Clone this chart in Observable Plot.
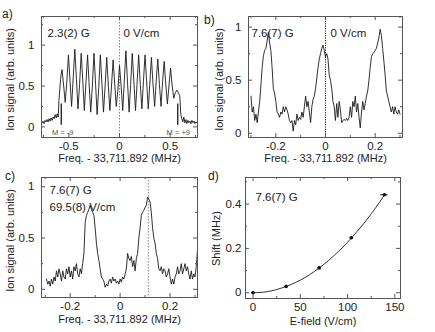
<!DOCTYPE html>
<html><head><meta charset="utf-8">
<script src="https://cdn.jsdelivr.net/npm/d3@7"></script>
<script src="https://cdn.jsdelivr.net/npm/@observablehq/plot@0.6"></script>
<style>
body{margin:0;background:#fff;}
#fig{position:relative;width:435px;height:332px;font-family:"Liberation Sans",Arial,sans-serif;color:#222;}
#fig svg{position:absolute;}
.lbl{position:absolute;font-size:12px;line-height:12px;color:#222;white-space:nowrap;}
.ytl{position:absolute;font-size:11px;line-height:13px;height:13px;width:140px;text-align:center;color:#222;white-space:nowrap;transform:rotate(-90deg);transform-origin:50% 50%;}
</style></head><body><div id="fig"></div>
<script>
// ---------- data ----------
const panelLetters = ["a)", "b)", "c)", "d)"];
const freqTitle = "Freq. - 33,711.892 (MHz)";
const ionTitle = "Ion signal (arb. units)";
const yTitles = [ionTitle, ionTitle, ionTitle, "Shift (MHz)"];

// panel a: 2.3(2) G, 0 V/cm
const freqA = [
 -0.765,-0.755,-0.745,-0.735,-0.725,-0.715,-0.705,-0.695,-0.685,-0.675,-0.665,-0.655,-0.645,-0.635,-0.625,-0.615,-0.605,
 -0.598,-0.590,-0.582,-0.575,
 -0.567,-0.551,-0.536,-0.520,
 -0.504,-0.488,-0.473,-0.457,
 -0.441,-0.425,-0.410,-0.394,
 -0.378,-0.362,-0.347,-0.331,
 -0.315,-0.299,-0.284,-0.268,
 -0.252,-0.236,-0.221,-0.205,
 -0.189,-0.173,-0.158,-0.142,
 -0.126,-0.110,-0.095,-0.079,
 -0.063,-0.047,-0.032,-0.016,
 0.000,0.016,0.032,0.047,
 0.063,0.079,0.095,0.110,
 0.126,0.142,0.158,0.173,
 0.189,0.205,0.221,0.236,
 0.252,0.268,0.284,0.299,
 0.315,0.331,0.347,0.362,
 0.378,0.394,0.410,0.425,
 0.441,0.457,0.473,0.488,
 0.504,0.520,0.536,0.551,
 0.567,
 0.580,0.595,0.605,0.615,
 0.625,0.635,0.645,0.655,0.665,0.675,0.685,0.695,0.705,0.715,0.725,0.735,0.745,0.755,0.765];
const sigA = [
 0.05,0.07,0.04,0.08,0.06,0.09,0.06,0.10,0.07,0.11,0.08,0.12,0.10,0.15,0.11,0.16,0.12,
 0.32,0.45,0.58,0.65,
 0.70,0.50,0.30,0.55,
 0.88,0.55,0.25,0.60,
 0.95,0.58,0.22,0.52,
 0.90,0.55,0.20,0.55,
 0.88,0.50,0.18,0.50,
 0.90,0.52,0.15,0.48,
 0.88,0.52,0.18,0.50,
 0.85,0.50,0.20,0.50,
 0.82,0.52,0.25,0.45,
 0.75,0.50,0.20,0.55,
 0.93,0.55,0.18,0.52,
 0.90,0.55,0.20,0.52,
 0.88,0.52,0.22,0.55,
 0.88,0.55,0.22,0.52,
 0.85,0.52,0.25,0.55,
 0.83,0.52,0.25,0.55,
 0.80,0.52,0.28,0.50,
 0.72,0.50,0.35,0.42,
 0.45,
 0.42,0.38,0.15,0.10,
 0.06,0.12,0.05,0.09,0.04,0.08,0.05,0.07,0.04,0.08,0.05,0.07,0.04,0.06,0.05];
const markA = [-0.575, 0.575];
const markALabels = ["M = -9", "M = +9"];
const markALabelX = [-0.56, 0.58];

// panel b: 7.6(7) G, 0 V/cm
const freqB = [
 -0.300,-0.295,-0.290,-0.285,-0.280,-0.275,-0.270,-0.265,-0.260,-0.255,
 -0.250,-0.245,-0.240,-0.235,-0.230,-0.225,-0.220,-0.215,-0.210,-0.205,
 -0.200,-0.195,-0.190,-0.185,-0.180,-0.175,-0.170,-0.165,-0.160,-0.155,
 -0.150,-0.145,-0.140,-0.135,-0.130,-0.125,-0.120,-0.115,-0.110,-0.105,
 -0.100,-0.095,-0.090,-0.085,-0.080,-0.075,-0.070,-0.065,-0.060,-0.055,
 -0.050,-0.045,-0.040,-0.035,-0.030,-0.025,-0.020,-0.015,-0.010,-0.005,
 0.000,0.005,0.010,0.015,0.020,0.025,0.030,0.035,0.040,0.045,
 0.050,0.055,0.060,0.065,0.070,0.075,0.080,0.085,0.090,0.095,
 0.100,0.105,0.110,0.115,0.120,0.125,0.130,0.135,0.140,0.145,
 0.150,0.155,0.160,0.165,0.170,0.175,0.180,0.185,0.190,0.195,
 0.200,0.205,0.210,0.215,0.220,0.225,0.230,0.235,0.240,0.245,
 0.250,0.255,0.260,0.265,0.270,0.275,0.280,0.285,0.290,0.295,
 0.300];
const sigB = [
 0.35,0.20,0.25,0.12,0.18,0.10,0.20,0.30,0.45,0.62,
 0.73,0.78,0.80,0.87,0.95,0.85,0.78,0.62,0.42,0.38,
 0.30,0.20,0.18,0.15,0.20,0.18,0.25,0.20,0.25,0.22,
 0.18,0.12,0.10,0.12,0.02,0.12,0.08,0.18,0.12,0.15,
 0.13,0.20,0.15,0.25,0.35,0.25,0.30,0.20,0.10,0.25,
 0.32,0.35,0.42,0.52,0.62,0.70,0.75,0.80,0.83,0.78,
 0.72,0.75,0.70,0.55,0.50,0.42,0.30,0.25,0.12,0.28,
 0.15,0.30,0.22,0.10,0.12,0.13,0.12,0.14,0.12,0.15,
 0.25,0.15,0.30,0.25,0.35,0.20,0.28,0.15,0.05,0.20,
 0.30,0.22,0.28,0.35,0.40,0.50,0.62,0.72,0.75,0.76,
 0.78,0.80,0.85,0.90,0.98,0.92,0.80,0.68,0.55,0.40,
 0.35,0.30,0.25,0.20,0.25,0.18,0.25,0.20,0.18,0.22,
 0.18];

// panel c: 7.6(7) G, 69.5(8) V/cm
const freqC = [
 -0.295,-0.290,-0.285,-0.280,-0.275,-0.270,-0.265,-0.260,-0.255,-0.250,
 -0.245,-0.240,-0.235,-0.230,-0.225,-0.220,-0.215,-0.210,-0.205,-0.200,
 -0.195,-0.190,-0.185,-0.180,-0.175,-0.170,-0.165,-0.160,-0.155,-0.150,
 -0.145,-0.140,-0.135,-0.130,-0.125,-0.120,-0.115,-0.110,-0.105,-0.100,
 -0.095,-0.090,-0.085,-0.080,-0.075,-0.070,-0.065,-0.060,-0.055,-0.050,
 -0.045,-0.040,-0.035,-0.030,-0.025,-0.020,-0.015,-0.010,-0.005,0.000,
 0.005,0.010,0.015,0.020,0.025,0.030,0.035,0.040,0.045,0.050,
 0.055,0.060,0.065,0.070,0.075,0.080,0.085,0.090,0.095,0.100,
 0.105,0.110,0.115,0.120,0.125,0.130,0.135,0.140,0.145,0.150,
 0.155,0.160,0.165,0.170,0.175,0.180,0.185,0.190,0.195,0.200,
 0.205,0.210,0.215,0.220,0.225,0.230,0.235,0.240,0.245,0.250,
 0.255,0.260,0.265,0.270,0.275,0.280,0.285,0.290,0.295,0.300,
 0.305,0.310];
const sigC = [
 0.10,0.05,0.08,0.03,0.10,0.05,0.12,0.08,0.18,0.12,
 0.20,0.15,0.08,0.18,0.12,0.10,0.20,0.15,0.22,0.12,
 0.18,0.10,0.22,0.18,0.25,0.15,0.12,0.20,0.15,0.25,
 0.35,0.65,0.72,0.75,0.78,0.82,0.78,0.75,0.72,0.60,
 0.45,0.35,0.28,0.20,0.12,0.10,0.08,0.02,0.05,0.03,
 0.08,0.10,0.06,0.12,0.08,0.10,0.06,0.08,0.05,0.10,
 0.07,0.12,0.10,0.15,0.20,0.35,0.30,0.28,0.32,0.22,
 0.28,0.18,0.30,0.35,0.50,0.60,0.72,0.75,0.77,0.80,
 0.82,0.90,0.88,0.85,0.75,0.60,0.50,0.45,0.35,0.30,
 0.20,0.18,0.22,0.15,0.20,0.18,0.12,0.15,0.20,0.12,
 0.05,0.10,0.05,0.12,0.15,0.22,0.15,0.18,0.25,0.15,
 0.20,0.25,0.18,0.22,0.15,0.10,0.18,0.10,0.15,0.12,
 0.22,0.38];
const markC = [0.113];

// panel d: shift vs E-field
const fieldD = [0, 35, 70, 104, 139];
const shiftD = [0, 0.028, 0.112, 0.248, 0.442];
const fieldErr = [1.5, 1.5, 1.5, 1.5, 4];
const shiftErr = [0.006, 0.006, 0.006, 0.006, 0.006];
const fitField = [0, 10, 20, 30, 40, 50, 60, 70, 80, 90, 100, 110, 120, 130, 139];
const fitShift = [0, 0.002, 0.009, 0.021, 0.037, 0.057, 0.082, 0.112, 0.146, 0.185, 0.228, 0.276, 0.328, 0.385, 0.441];

// ---------- drawing ----------
const FONT = "'Liberation Sans', Arial, sans-serif";
const fig = document.getElementById("fig");
const LINE = "#1a1a1a", FRAME = "#555";

function panel(o) {
  const pw = o.width - o.ml - o.mr, ph = o.height - o.mt - o.mb;
  const st = {stroke: FRAME, strokeWidth: 1};
  const fmt = d => String(d);
  const svg = Plot.plot({
    width: o.width, height: o.height,
    marginTop: o.mt, marginRight: o.mr, marginBottom: o.mb, marginLeft: o.ml,
    style: {fontFamily: FONT, fontSize: "11px", color: "#222", background: "transparent", overflow: "visible"},
    x: {domain: o.xDomain},
    y: {domain: o.yDomain},
    marks: [
      ...o.marks,
      Plot.frame({stroke: FRAME}),
      Plot.tickX(o.xMajor, {x: d => d, insetTop: ph - 4, ...st}),
      Plot.tickX(o.xMajor, {x: d => d, insetBottom: ph - 4, ...st}),
      Plot.tickX(o.xMinor, {x: d => d, insetTop: ph - 2, ...st}),
      Plot.tickX(o.xMinor, {x: d => d, insetBottom: ph - 2, ...st}),
      Plot.tickY(o.yMajor, {y: d => d, insetRight: pw - 4, ...st}),
      Plot.tickY(o.yMajor, {y: d => d, insetLeft: pw - 4, ...st}),
      Plot.tickY(o.yMinor, {y: d => d, insetRight: pw - 2, ...st}),
      Plot.tickY(o.yMinor, {y: d => d, insetLeft: pw - 2, ...st}),
      Plot.axisX(o.xMajor, {tickSize: 0, tickPadding: 4, tickFormat: fmt, label: null, fontSize: 11.5}),
      Plot.axisY(o.yMajor, {tickSize: 0, tickPadding: o.yPad, tickFormat: fmt, label: null, fontSize: 11.5}),
      Plot.text([o.xTitle], {text: d => d, frameAnchor: "bottom", dy: o.xTitleDy, fontSize: 11})
    ]
  });
  svg.style.left = o.left + "px";
  svg.style.top = o.top + "px";
  fig.appendChild(svg);
}

const lineStyle = {stroke: LINE, strokeWidth: 0.9, clip: true};

// a)
panel({
  left: 0, top: 0, width: 215, height: 165, ml: 41, mr: 18, mt: 16, mb: 28, yPad: 7,
  xDomain: [-0.77, 0.77], yDomain: [-0.13, 1.35],
  xMajor: [-0.5, 0, 0.5], xMinor: [-0.75, -0.25, 0.25, 0.75],
  yMajor: [0, 0.5, 1], yMinor: [0.25, 0.75, 1.25],
  xTitle: freqTitle, xTitleDy: 24,
  marks: [
    Plot.ruleX([0], {stroke: "#888", strokeDasharray: "1.5,1.5"}),
    Plot.line(freqA, {x: freqA, y: sigA, ...lineStyle}),
    Plot.ruleX(markA, {x: markA, y1: 0.02, y2: 0.28, stroke: LINE, strokeWidth: 1.3}),
    Plot.text(markALabels, {x: markALabelX, y: -0.075, text: d => d, fontSize: 7.5, fill: "#555"}),
    Plot.text(["2.3(2) G"], {text: d => d, frameAnchor: "top-left", dx: 6, dy: 12, textAnchor: "start", fontSize: 11.5}),
    Plot.text(["0 V/cm"], {x: [0], text: d => d, frameAnchor: "top", dx: 4, dy: 12, textAnchor: "start", fontSize: 11.5})
  ]
});

// b)
panel({
  left: 215, top: 0, width: 220, height: 165, ml: 33, mr: 33, mt: 16, mb: 28, yPad: 7,
  xDomain: [-0.31, 0.31], yDomain: [-0.04, 1.1],
  xMajor: [-0.2, 0, 0.2], xMinor: [-0.3, -0.1, 0.1, 0.3],
  yMajor: [0, 0.5, 1], yMinor: [0.25, 0.75],
  xTitle: freqTitle, xTitleDy: 24,
  marks: [
    Plot.ruleX([0], {stroke: "#222", strokeDasharray: "1.2,1.2"}),
    Plot.line(freqB, {x: freqB, y: sigB, ...lineStyle}),
    Plot.text(["7.6(7) G"], {text: d => d, frameAnchor: "top-left", dx: 3, dy: 12, textAnchor: "start", fontSize: 11.5}),
    Plot.text(["0 V/cm"], {x: [0], text: d => d, frameAnchor: "top", dx: 5, dy: 12, textAnchor: "start", fontSize: 11.5})
  ]
});

// c)
panel({
  left: 0, top: 165, width: 215, height: 167, ml: 41, mr: 18, mt: 12, mb: 35, yPad: 7,
  xDomain: [-0.315, 0.31], yDomain: [-0.08, 1.09],
  xMajor: [-0.2, 0, 0.2], xMinor: [-0.3, -0.1, 0.1, 0.3],
  yMajor: [0, 0.5, 1], yMinor: [0.25, 0.75],
  xTitle: freqTitle, xTitleDy: 25,
  marks: [
    Plot.ruleX(markC, {stroke: "#888", strokeDasharray: "1.5,1.5"}),
    Plot.line(freqC, {x: freqC, y: sigC, ...lineStyle}),
    Plot.text(["7.6(7) G"], {text: d => d, frameAnchor: "top-left", dx: 8, dy: 8, textAnchor: "start", fontSize: 11.5}),
    Plot.text(["69.5(8) V/cm"], {text: d => d, frameAnchor: "top-left", dx: 8, dy: 25, textAnchor: "start", fontSize: 11.5})
  ]
});

// d)
panel({
  left: 215, top: 165, width: 220, height: 167, ml: 30, mr: 35, mt: 12, mb: 34, yPad: 4,
  xDomain: [-8, 156], yDomain: [-0.026, 0.52],
  xMajor: [0, 50, 100, 150], xMinor: [25, 75, 125],
  yMajor: [0, 0.2, 0.4], yMinor: [0.1, 0.3, 0.5],
  xTitle: "E-field (V/cm)", xTitleDy: 26,
  marks: [
    Plot.line(fitField, {x: fitField, y: fitShift, curve: "natural", stroke: LINE, strokeWidth: 0.9}),
    Plot.ruleY(shiftD, {y: shiftD, x1: fieldD.map((v, i) => v - fieldErr[i]), x2: fieldD.map((v, i) => v + fieldErr[i]), stroke: LINE, strokeWidth: 1}),
    Plot.ruleX(fieldD, {x: fieldD, y1: shiftD.map((v, i) => v - shiftErr[i]), y2: shiftD.map((v, i) => v + shiftErr[i]), stroke: LINE, strokeWidth: 1}),
    Plot.dot(fieldD, {x: fieldD, y: shiftD, r: 1.8, fill: "#111", stroke: "none"}),
    Plot.text(["7.6(7) G"], {text: d => d, frameAnchor: "top-left", dx: 10, dy: 15, textAnchor: "start", fontSize: 11.5})
  ]
});

// panel letters
const letterPos = [[2, 8], [204, 14], [5, 170], [208, 170]];
panelLetters.forEach((t, i) => {
  const d = document.createElement("div");
  d.className = "lbl";
  d.textContent = t;
  d.style.left = letterPos[i][0] + "px";
  d.style.top = letterPos[i][1] + "px";
  fig.appendChild(d);
});

// rotated y-axis titles (centre x, centre y)
const yTitlePos = [[10, 79], [219, 79], [10, 240], [216, 238]];
yTitles.forEach((t, i) => {
  const d = document.createElement("div");
  d.className = "ytl";
  d.textContent = t;
  d.style.left = (yTitlePos[i][0] - 70) + "px";
  d.style.top = (yTitlePos[i][1] - 6.5) + "px";
  fig.appendChild(d);
});
</script>
</body></html>
